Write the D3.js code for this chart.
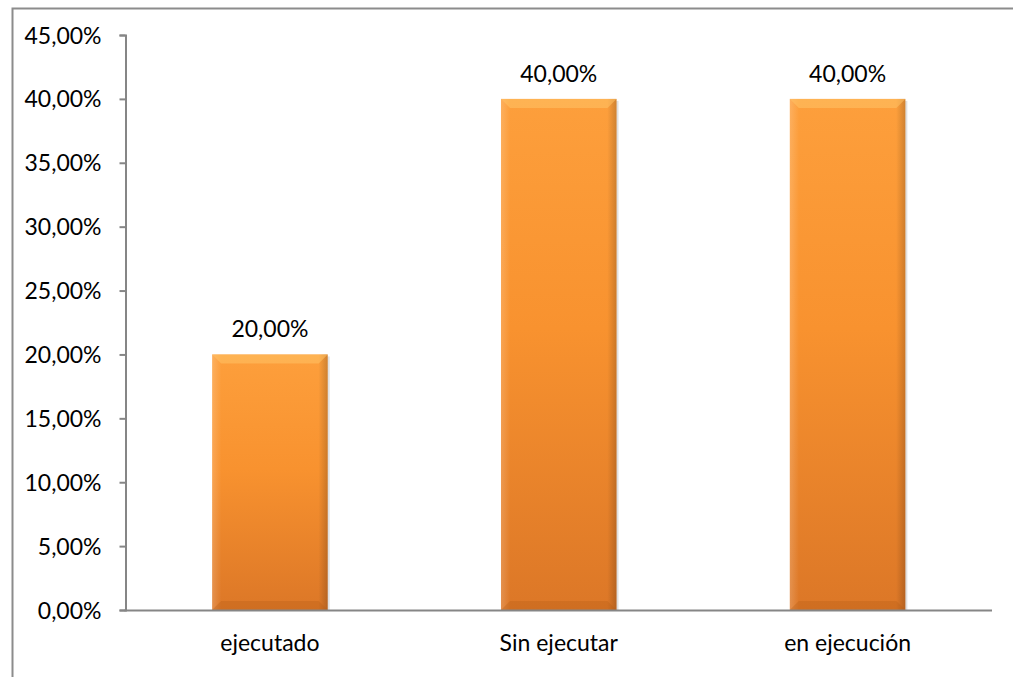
<!DOCTYPE html>
<html><head><meta charset="utf-8">
<script src="https://cdn.jsdelivr.net/npm/d3@7"></script>
<style>body{margin:0;background:#fff}svg{display:block}text{font-family:Lato,"Open Sans",sans-serif;fill:#000}</style>
</head><body><svg id="c" width="1014" height="677"></svg>
<script>
const categories = ["ejecutado", "Sin ejecutar", "en ejecución"];
const values = [0.20, 0.40, 0.40];
const yTicks = [0, 0.05, 0.10, 0.15, 0.20, 0.25, 0.30, 0.35, 0.40, 0.45];

const svg = d3.select("#c");
const fmt = v => (v*100).toFixed(2).replace(".", ",") + "%";
const FS = 23;

// outer frame
svg.append("path").attr("d","M12.5,677 L12.5,8.5 L1013,8.5").attr("fill","none").attr("stroke","#8c8c8c").attr("stroke-width",2);

const x = d3.scaleBand().domain(categories).range([125.5, 992]).paddingInner(0.6).paddingOuter(0.3);
const y = d3.scaleLinear().domain([0, 0.45]).range([610, 35]);

const defs = svg.append("defs");
const g = defs.append("linearGradient").attr("id","bar").attr("x1",0).attr("y1",0).attr("x2",0).attr("y2",1);
g.append("stop").attr("offset","0%").attr("stop-color","#fd9f3c");
g.append("stop").attr("offset","45%").attr("stop-color","#f8922f");
g.append("stop").attr("offset","100%").attr("stop-color","#dc7727");
const gl = defs.append("linearGradient").attr("id","side").attr("x1",0).attr("y1",0).attr("x2",1).attr("y2",0);
gl.append("stop").attr("offset","0%").attr("stop-color","#fff").attr("stop-opacity",0.18);
gl.append("stop").attr("offset","8%").attr("stop-color","#fff").attr("stop-opacity",0);
gl.append("stop").attr("offset","92%").attr("stop-color","#000").attr("stop-opacity",0);
gl.append("stop").attr("offset","100%").attr("stop-color","#000").attr("stop-opacity",0.18);

// bars
const bars = svg.append("g");
categories.forEach((c,i) => {
  const bx = x(c), bw = x.bandwidth(), by = y(values[i]), bh = y(0) - y(values[i]);
  bars.append("rect").attr("x",bx+2).attr("y",by+2).attr("width",bw).attr("height",bh-2).attr("fill","#000").attr("opacity",0.12);
  bars.append("rect").attr("x",bx).attr("y",by).attr("width",bw).attr("height",bh).attr("fill","url(#bar)");
  bars.append("rect").attr("x",bx).attr("y",by).attr("width",bw).attr("height",bh).attr("fill","url(#side)");
  bars.append("path").attr("d",`M${bx},${by} L${bx+bw},${by} L${bx+bw-9},${by+9} L${bx+9},${by+9} Z`).attr("fill","#ffc266").attr("opacity",0.55);
  bars.append("path").attr("d",`M${bx},${by+bh} L${bx+bw},${by+bh} L${bx+bw-9},${by+bh-9} L${bx+9},${by+bh-9} Z`).attr("fill","#b85e18").attr("opacity",0.35);
  bars.append("text").attr("x",bx+bw/2).attr("y",by-17).attr("text-anchor","middle").attr("font-size",FS).text(fmt(values[i]));
});

// y axis
const ya = svg.append("g").attr("transform","translate(125.5,0)")
  .call(d3.axisLeft(y).tickValues(yTicks).tickFormat(fmt).tickSize(6).tickPadding(18));
ya.selectAll("path,line").attr("stroke","#868686").attr("stroke-width",2);
ya.selectAll("text").attr("font-size",FS).attr("font-family","Lato,'Open Sans',sans-serif").attr("fill","#000").attr("dy","0.35em");

// x axis
const xa = svg.append("g").attr("transform","translate(0,610.5)")
  .call(d3.axisBottom(x).tickSize(0).tickPadding(24));
xa.select("path").attr("stroke","#868686").attr("stroke-width",2).attr("d","M124.5,0H992");
xa.selectAll("text").attr("font-size",FS).attr("font-family","Lato,'Open Sans',sans-serif").attr("fill","#000").attr("dy","0.71em");
</script></body></html>
